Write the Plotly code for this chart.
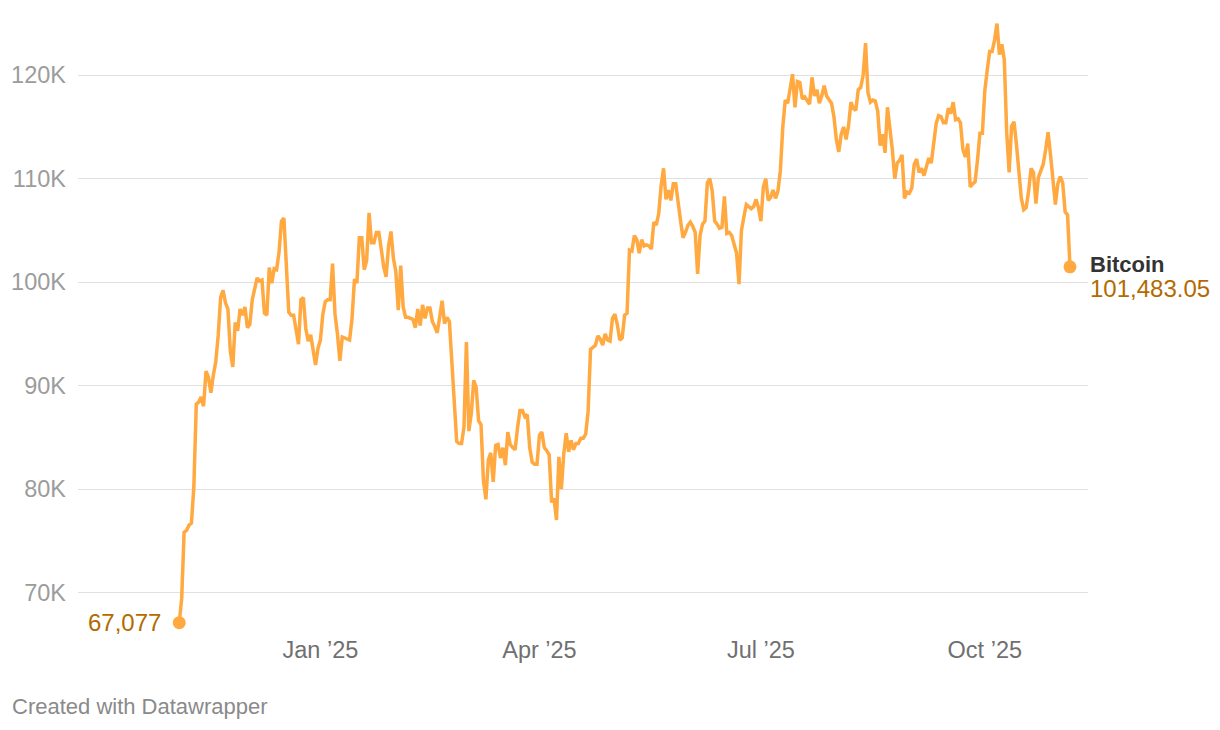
import pandas as pd
import plotly.graph_objects as go

# ---------------- data (daily closing price, thousands of USD) ----------------
start_date = "2024-11-04"
series_name = "Bitcoin"

nov24 = [67.077, 69.4, 75.8, 76.0, 76.5, 76.7, 80.2, 88.2, 88.4, 88.9, 88.0, 91.4, 90.8, 89.3,
         91.0, 92.3, 94.8, 98.5, 99.2, 98.0, 97.4, 93.3, 91.8, 96.1, 95.3, 97.4, 96.8]
dec24 = [97.6, 95.6, 95.9, 98.3, 99.5, 100.4, 100.1, 100.2, 97.0, 96.8, 101.4, 99.9, 101.3, 101.2,
         102.9, 105.9, 106.2, 100.8, 97.1, 96.8, 96.8, 95.4, 94.0, 98.3, 98.5, 95.5, 94.3, 94.9,
         93.4, 92.0, 93.6]
jan25 = [94.4, 96.9, 98.1, 98.3, 98.3, 101.8, 96.9, 95.0, 92.4, 94.7, 94.6, 94.5, 94.4, 96.5,
         100.3, 99.9, 104.3, 104.3, 101.2, 102.1, 106.7, 103.8, 103.8, 104.8, 104.8, 103.2, 101.5,
         100.5, 103.5, 104.9, 102.3]
feb25 = [101.0, 97.3, 101.6, 97.6, 96.6, 96.6, 96.5, 96.4, 95.6, 97.4, 95.8, 97.8, 96.5, 97.5,
         97.5, 96.2, 95.7, 95.1, 96.6, 98.2, 96.0, 96.6, 96.2, 92.5, 88.6, 84.6, 84.4, 84.4]
mar25 = [86.0, 94.2, 85.6, 87.3, 90.5, 89.8, 86.6, 86.2, 80.8, 79.0, 82.8, 83.5, 80.7, 84.2,
         84.3, 83.0, 84.0, 82.3, 85.5, 84.3, 84.0, 83.8, 85.9, 87.6, 87.6, 87.0, 87.2, 84.0,
         82.6, 82.4, 82.4]
apr25 = [85.2, 85.5, 84.0, 83.7, 83.3, 78.7, 79.1, 77.0, 83.1, 80.0, 83.4, 85.4, 83.6, 84.7,
         83.8, 84.4, 84.4, 84.9, 84.9, 85.3, 87.5, 93.5, 93.7, 93.9, 94.8, 94.5, 93.9, 95.0,
         94.4, 94.3]
may25 = [96.5, 96.9, 95.9, 94.4, 94.6, 96.8, 97.0, 103.1, 103.0, 104.5, 104.1, 102.8, 104.1,
         103.5, 103.6, 103.5, 103.2, 105.8, 105.5, 106.6, 109.3, 111.0, 108.0, 108.9, 107.9,
         109.5, 109.5, 107.5, 105.9, 104.3, 104.8]
jun25 = [105.5, 105.8, 105.4, 104.8, 100.8, 104.5, 105.6, 105.9, 109.6, 110.0, 108.8, 105.9,
         105.6, 105.2, 105.3, 108.3, 104.7, 104.8, 104.5, 103.5, 102.8, 99.8, 105.0, 106.3,
         107.5, 107.3, 107.1, 107.3, 108.0, 107.2]
jul25 = [105.9, 109.2, 110.0, 107.9, 108.2, 108.9, 108.1, 108.8, 110.8, 115.0, 117.6, 117.3,
         119.0, 120.1, 116.9, 119.4, 119.3, 117.7, 117.9, 117.6, 117.2, 119.8, 118.0, 118.6,
         117.3, 118.0, 119.0, 118.0, 117.6, 117.3, 116.0]
aug25 = [113.8, 112.6, 114.3, 115.0, 113.8, 115.1, 117.4, 116.8, 116.6, 118.6, 118.8, 120.0,
         123.1, 118.3, 117.4, 117.6, 117.5, 116.5, 113.2, 114.3, 112.5, 116.9, 115.0, 112.8,
         110.0, 111.5, 111.8, 112.3, 108.1, 108.7, 108.6]
sep25 = [109.1, 111.4, 111.9, 110.6, 111.0, 110.3, 111.2, 112.0, 111.5, 113.8, 115.3, 116.1,
         116.0, 115.4, 115.4, 116.8, 116.3, 117.4, 115.7, 115.8, 115.4, 112.8, 112.1, 113.4,
         109.2, 109.5, 109.7, 111.8, 114.4, 114.4]
oct25 = [118.5, 120.5, 122.3, 122.3, 123.4, 125.0, 122.0, 123.0, 121.5, 114.5, 110.6, 115.1,
         115.5, 113.3, 111.0, 108.1, 107.0, 107.2, 108.8, 111.0, 110.6, 107.6, 110.1, 110.9,
         111.4, 112.8, 114.5, 112.3, 110.0, 107.5, 109.5]
nov25 = [110.2, 109.6, 106.8, 106.5, 101.48305]

y_tick_values = [70, 80, 90, 100, 110, 120]
y_tick_labels = ["70K", "80K", "90K", "100K", "110K", "120K"]
x_tick_dates = ["2025-01-01", "2025-04-01", "2025-07-01", "2025-10-01"]
x_tick_labels = ["Jan \u201925", "Apr \u201925", "Jul \u201925", "Oct \u201925"]

# ---------------- build ----------------
prices_k = nov24 + dec24 + jan25 + feb25 + mar25 + apr25 + may25 + jun25 + jul25 + aug25 + sep25 + oct25 + nov25
dates = pd.date_range(start_date, periods=len(prices_k), freq="D")

LINE = "#ffa940"
LABEL = "#b26b00"
FONT = "Liberation Sans, Arial, Helvetica, sans-serif"

fig = go.Figure()
fig.add_trace(go.Scatter(
    x=dates, y=prices_k, mode="lines", name=series_name,
    line=dict(color=LINE, width=3.5), hoverinfo="skip", showlegend=False,
))
fig.add_trace(go.Scatter(
    x=[dates[0], dates[-1]], y=[prices_k[0], prices_k[-1]], mode="markers",
    marker=dict(color=LINE, size=13), cliponaxis=False, hoverinfo="skip", showlegend=False,
))

first_label = f"{prices_k[0] * 1000:,.0f}"
last_label = f"{round(prices_k[-1] * 1000, 2):,.2f}"

fig.add_annotation(x=dates[0], y=prices_k[0], text=first_label, showarrow=False,
                   xanchor="right", yanchor="middle", xshift=-16,
                   font=dict(family=FONT, size=24, color=LABEL))
fig.add_annotation(x=dates[-1], y=prices_k[-1], text=f"<b>{series_name}</b>", showarrow=False,
                   xanchor="left", yanchor="middle", xshift=18, yshift=2,
                   font=dict(family=FONT, size=22, color="#333333"))
fig.add_annotation(x=dates[-1], y=prices_k[-1], text=last_label, showarrow=False,
                   xanchor="left", yanchor="middle", xshift=18, yshift=-22,
                   font=dict(family=FONT, size=24, color=LABEL))
fig.add_annotation(xref="paper", yref="paper", x=-68 / 1010, y=(631 - 698) / 631,
                   text="Created with Datawrapper", showarrow=False,
                   xanchor="left", yanchor="middle",
                   font=dict(family=FONT, size=22, color="#8a8a8a"))

x_start = dates[0] - pd.Timedelta(days=41.6)
x_end = dates[-1] + pd.Timedelta(days=7.4)

fig.update_layout(
    width=1212, height=722,
    margin=dict(l=70, r=132, t=0, b=91),
    paper_bgcolor="white", plot_bgcolor="white",
    font=dict(family=FONT, size=24),
    xaxis=dict(
        type="date", range=[x_start, x_end],
        tickmode="array", tickvals=x_tick_dates, ticktext=x_tick_labels,
        showgrid=False, zeroline=False, showline=False, ticks="",
        ticklabelstandoff=-6,
        tickfont=dict(family=FONT, size=23.5, color="#707070"),
    ),
    yaxis=dict(
        range=[65.5, 126.5],
        tickmode="array", tickvals=y_tick_values, ticktext=y_tick_labels,
        showgrid=True, gridcolor="#e0e0e0", gridwidth=1,
        zeroline=False, showline=False, ticks="",
        ticklabelstandoff=11,
        tickfont=dict(family=FONT, size=23.5, color="#9c9c9c"),
    ),
)

fig.write_html("out.html")
